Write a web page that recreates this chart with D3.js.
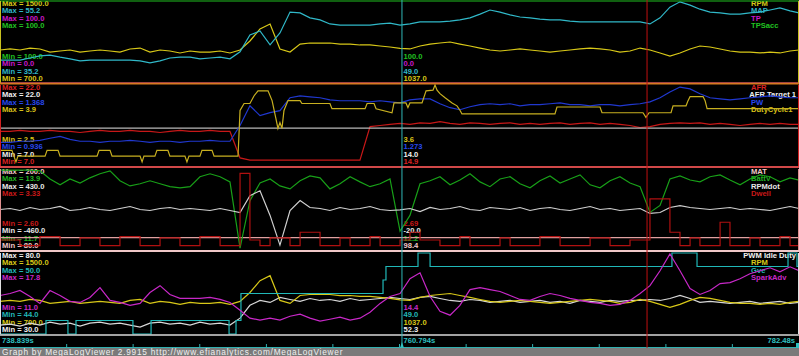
<!DOCTYPE html>
<html>
<head>
<meta charset="utf-8">
<title>MegaLogViewer</title>
<script src="https://cdn.jsdelivr.net/npm/d3@7/dist/d3.min.js"></script>
<style>
  body { margin: 0; background: #000; overflow: hidden; }
  svg { display: block; }
  .lbl { font-family: "Liberation Sans", Arial, sans-serif; font-size: 7.6px; font-weight: bold; }
  .foot { font-family: "Liberation Sans", Arial, sans-serif; font-size: 8.3px; letter-spacing: 0.75px; }
</style>
</head>
<body>
<svg id="chart" width="799" height="356"></svg>
<script>
// log sample times (s)
const time = [738.839, 739.39, 739.93, 740.48, 741.02, 741.57, 742.12, 742.66, 743.21, 743.75,
  744.30, 744.85, 745.39, 745.94, 746.49, 747.03, 747.58, 748.12, 748.67, 749.22,
  749.76, 750.31, 750.86, 751.40, 751.95, 752.49, 753.04, 753.59, 754.13, 754.68,
  755.23, 755.77, 756.32, 756.86, 757.41, 757.96, 758.50, 759.05, 759.60, 760.14,
  760.69, 761.23, 761.78, 762.33, 762.87, 763.42, 763.96, 764.51, 765.06, 765.60,
  766.15, 766.70, 767.24, 767.79, 768.33, 768.88, 769.43, 769.97, 770.52, 771.07,
  771.61, 772.16, 772.70, 773.25, 773.80, 774.34, 774.89, 775.43, 775.98, 776.53,
  777.07, 777.62, 778.17, 778.71, 779.26, 779.80, 780.35, 780.90, 781.44, 781.99,
  782.48];

const rpm = [1022, 1032, 1022, 1041, 1032, 1002, 1012, 1022, 1002, 1012,
  1022, 1012, 1002, 1032, 1041, 1002, 1022, 1012, 993, 1012,
  1002, 1002, 1012, 993, 1022, 1110, 1227, 1276, 1032, 1002,
  1080, 1090, 1090, 1090, 1080, 1080, 1071, 1071, 1061, 1051,
  1037, 1032, 1061, 1080, 1090, 1100, 1080, 1061, 1041, 1022,
  1012, 1022, 1032, 1022, 1012, 1002, 1012, 1022, 1032, 1041,
  1032, 1022, 1002, 1012, 1041, 1022, 993, 963, 993, 1032,
  1061, 1051, 1032, 1012, 1002, 1002, 993, 1002, 993, 1012,
  1022];

const map = [40.8, 40.8, 40.8, 41.3, 41.8, 42.0, 41.5, 41.1, 40.6, 40.8,
  40.8, 40.8, 40.8, 40.8, 40.6, 40.1, 40.6, 41.3, 41.5, 41.5,
  41.1, 41.3, 41.5, 41.1, 42.8, 46.9, 47.9, 44.5, 47.4, 52.5,
  52.3, 51.1, 50.6, 49.6, 49.3, 49.3, 49.3, 49.3, 49.6, 49.8,
  49.3, 49.6, 50.1, 50.1, 50.1, 50.3, 50.6, 51.1, 52.0, 53.0,
  52.5, 51.8, 51.3, 51.1, 50.8, 50.6, 50.6, 50.3, 50.1, 50.1,
  50.1, 50.1, 50.1, 50.1, 50.1, 49.6, 51.1, 53.7, 55.0, 54.2,
  53.2, 52.5, 52.3, 52.0, 52.0, 52.3, 52.5, 53.0, 53.5, 52.8,
  52.3];

const afr = [13.4, 13.4, 13.6, 13.4, 13.4, 13.6, 13.4, 13.4, 13.2, 13.4,
  13.6, 13.4, 13.4, 13.6, 13.4, 13.4, 13.2, 13.4, 13.6, 13.4,
  13.4, 13.6, 13.4, 13.4, 8.5, 8.1, 8.1, 8.1, 8.1, 8.1,
  8.1, 8.1, 8.1, 8.1, 8.1, 8.1, 8.1, 14.3, 14.5, 14.7,
  14.9, 14.7, 15.0, 14.9, 15.2, 14.9, 14.7, 15.0, 14.9, 14.7,
  14.9, 15.0, 14.7, 14.9, 14.7, 14.9, 15.0, 14.7, 14.9, 15.0,
  14.7, 14.9, 14.7, 14.5, 14.1, 14.3, 14.7, 14.9, 15.0, 14.9,
  15.0, 14.7, 14.9, 14.7, 14.5, 14.7, 14.9, 14.7, 14.9, 14.7,
  14.7];

const pw = [1.062, 1.062, 1.068, 1.068, 1.073, 1.084, 1.094, 1.078, 1.068, 1.068,
  1.062, 1.068, 1.068, 1.073, 1.068, 1.062, 1.068, 1.068, 1.062, 1.068,
  1.068, 1.073, 1.068, 1.068, 1.152, 1.257, 1.205, 1.221, 1.231, 1.300,
  1.310, 1.305, 1.300, 1.289, 1.284, 1.284, 1.284, 1.278, 1.284, 1.278,
  1.273, 1.289, 1.294, 1.294, 1.268, 1.247, 1.236, 1.252, 1.263, 1.268,
  1.263, 1.268, 1.257, 1.263, 1.263, 1.268, 1.273, 1.263, 1.263, 1.257,
  1.263, 1.263, 1.257, 1.263, 1.268, 1.278, 1.300, 1.331, 1.357, 1.347,
  1.321, 1.300, 1.294, 1.289, 1.294, 1.300, 1.305, 1.310, 1.305, 1.300,
  1.300];

const battV = [13.87, 13.87, 13.87, 13.87, 13.85, 13.63, 13.47, 13.63, 13.52, 13.66,
  13.77, 13.85, 13.58, 13.44, 13.50, 13.58, 13.50, 13.42, 13.39, 13.42,
  13.69, 13.77, 13.69, 13.55, 11.75, 13.04, 13.52, 13.63, 13.44, 13.36,
  13.58, 13.71, 13.66, 13.36, 13.50, 13.69, 13.55, 13.42, 13.50, 13.63,
  12.21, 12.64, 13.50, 13.58, 13.69, 13.47, 13.60, 13.77, 13.55, 13.42,
  13.63, 13.69, 13.50, 13.39, 13.58, 13.71, 13.52, 13.63, 13.74, 13.47,
  13.39, 13.58, 13.69, 13.52, 13.42, 12.72, 12.91, 13.63, 13.71, 13.60,
  13.55, 13.69, 13.74, 13.60, 13.47, 13.63, 13.74, 13.69, 13.55, 13.66,
  13.60];

const rpmDot = [-15, -4, -26, 7, -15, -4, 18, -26, -15, 7,
  -15, -26, -4, 18, -15, -26, -4, 7, -15, -4,
  -15, -26, -4, -26, -48, 137, 191, -80, -406, -26,
  83, 7, -4, -26, 7, -15, -4, 18, -15, -26,
  -20, -4, -37, 7, -15, -4, 18, -15, -26, 7,
  -4, -15, 7, -26, -4, 7, -15, -26, -4, 18,
  -15, -4, -26, -15, -4, -58, -48, 7, 28, 7,
  -4, -15, -4, 7, -15, -4, -15, -26, -4, 18,
  -4];

const dwell = [2.69, 2.69, 2.64, 2.64, 2.72, 2.72, 2.64, 2.64, 2.71, 2.71,
  2.64, 2.64, 2.72, 2.72, 2.64, 2.64, 2.71, 2.71, 2.64, 2.64,
  2.72, 2.72, 2.64, 2.64, 3.29, 2.69, 2.64, 2.71, 2.71, 2.64,
  2.76, 2.76, 2.64, 2.64, 2.71, 2.64, 2.64, 2.72, 2.64, 2.64,
  2.69, 2.76, 2.69, 2.69, 2.64, 2.64, 2.72, 2.64, 2.64, 2.64,
  2.71, 2.64, 2.64, 2.64, 2.72, 2.72, 2.64, 2.64, 2.64, 2.71,
  2.71, 2.64, 2.64, 2.69, 2.69, 3.06, 3.06, 2.76, 2.64, 2.71,
  2.64, 2.64, 2.85, 2.64, 2.64, 2.71, 2.64, 2.64, 2.72, 2.64,
  2.64];

const idleDuty = [35.5, 36.1, 34.9, 36.7, 35.5, 37.3, 36.1, 36.7, 34.9, 36.7,
  37.3, 36.1, 36.7, 35.5, 34.3, 36.7, 37.3, 36.1, 36.7, 35.5,
  37.3, 36.1, 36.7, 35.5, 39.8, 47.7, 50.7, 49.5, 52.6, 51.3,
  50.1, 51.9, 50.7, 51.3, 50.1, 51.9, 50.7, 51.3, 51.9, 52.6,
  51.9, 51.3, 52.6, 53.2, 51.9, 50.7, 50.1, 51.3, 50.7, 49.5,
  50.1, 50.7, 49.5, 50.1, 50.7, 49.5, 50.1, 48.9, 50.7, 50.1,
  49.5, 50.7, 50.1, 50.7, 50.7, 51.3, 50.7, 51.9, 53.8, 51.9,
  49.5, 50.1, 49.5, 48.9, 49.5, 50.1, 48.9, 49.5, 50.1, 48.9,
  49.5];

const sparkAdv = [14.23, 14.40, 14.65, 14.15, 13.57, 14.65, 14.23, 13.74, 13.65, 14.07,
  14.90, 13.82, 13.65, 13.40, 13.57, 14.48, 15.06, 14.32, 13.99, 13.99,
  13.99, 14.07, 13.90, 13.65, 12.99, 12.33, 12.16, 12.33, 12.16, 12.49,
  12.66, 12.33, 12.08, 12.24, 12.41, 12.16, 12.33, 12.82, 13.57, 14.15,
  14.40, 15.64, 16.14, 14.15, 12.91, 12.58, 13.40, 14.73, 14.90, 14.73,
  14.57, 14.23, 13.90, 13.82, 14.15, 14.40, 14.23, 13.99, 13.82, 13.65,
  13.57, 13.40, 13.49, 13.82, 14.40, 15.06, 16.31, 17.72, 16.31, 14.81,
  14.32, 14.65, 15.23, 15.31, 15.64, 16.06, 16.31, 16.56, 16.22, 16.64,
  16.31];

// injector duty cycle changes
const dutyTime = [738.839, 739.49, 739.60, 739.71, 739.82, 741.30, 741.41, 742.01, 742.12, 744.14,
  744.25, 744.85, 744.96, 746.49, 746.60, 746.70, 747.30, 747.41, 748.01, 748.12,
  748.94, 749.05, 749.16, 749.76, 749.87, 750.42, 750.53, 751.84, 751.95, 752.17,
  752.49, 752.71, 752.93, 753.48, 753.70, 753.91, 754.02, 754.13, 754.24, 754.35,
  754.57, 755.23, 755.33, 756.86, 756.97, 758.78, 758.89, 759.27, 759.38, 760.25,
  760.36, 761.01, 761.12, 761.23, 761.89, 762.11, 762.49, 762.60, 762.71, 762.87,
  763.15, 763.53, 763.80, 763.97, 764.07, 769.15, 769.26, 771.61, 771.72, 773.96,
  774.12, 774.29, 775.49, 775.60, 776.31, 776.42, 776.53, 777.24, 777.35, 777.46,
  782.48];
const dutyCycle = [2.77, 2.77, 2.67, 2.57, 2.67, 2.67, 2.77, 2.77, 2.67, 2.67,
  2.77, 2.77, 2.67, 2.67, 2.57, 2.67, 2.67, 2.77, 2.77, 2.67,
  2.67, 2.57, 2.67, 2.67, 2.77, 2.77, 2.67, 2.67, 3.46, 3.58,
  3.58, 3.71, 3.80, 3.80, 3.63, 3.32, 3.15, 3.25, 3.15, 3.46,
  3.63, 3.63, 3.58, 3.58, 3.49, 3.49, 3.58, 3.58, 3.49, 3.42,
  3.59, 3.59, 3.51, 3.59, 3.59, 3.80, 3.81, 3.90, 3.81, 3.75,
  3.68, 3.59, 3.54, 3.46, 3.40, 3.40, 3.52, 3.52, 3.42, 3.42,
  3.34, 3.42, 3.42, 3.54, 3.54, 3.63, 3.70, 3.70, 3.63, 3.49,
  3.49];

// VE table cell steps
const gveTime = [738.839, 741.35, 742.55, 742.99, 746.10, 747.09, 751.35, 751.73, 752.00, 759.76,
  759.92, 761.67, 762.33, 775.54, 776.91, 781.88, 782.37, 782.48];
const gve = [44, 45, 44, 45, 44, 45, 44, 45, 47, 48, 49, 50, 49, 50, 49, 50, 49, 49];

// channels that stay constant over the window
const flatTime = [738.839, 782.48];
const tp = [0, 0];
const tpsAcc = [100, 100];
const afrTarget = [14.0, 14.0];
const mat = [98.4, 98.4];

// panel channel names, limits and cursor readouts
const p1Names = ["RPM", "MAP", "TP", "TPSacc"];
const p1Max = [1500, 55.2, 100, 100];
const p1Min = [700, 35.2, 0, 100];
const p1Now = ["1037.0", "49.0", "0.0", "100.0"];

const p2Names = ["AFR", "AFR Target 1", "PW", "DutyCycle1"];
const p2Max = [22, 22, 1.368, 3.9];
const p2Min = [7, 7, 0.936, 2.5];
const p2Now = ["14.9", "14.0", "1.273", "3.6"];

const p3Names = ["MAT", "BattV", "RPMdot", "Dwell"];
const p3Max = [200, 13.9, 430, 3.33];
const p3Min = [80, 11.7, -460, 2.6];
const p3Now = ["98.4", "12.2", "-20.0", "2.69"];

const p4Names = ["PWM Idle Duty", "RPM", "Gve", "SparkAdv"];
const p4Max = [80, 1500, 50, 17.8];
const p4Min = [30, 700, 44, 11];
const p4Now = ["52.3", "1037.0", "49.0", "14.4"];

const cursorTime = 760.794;
const markerTime = 774.18;
const tickTimes = [742.48, 746.11, 749.75, 753.39, 757.02, 760.66, 764.30, 767.93, 771.57, 775.21, 778.84];
const startLabel = "738.839s";
const cursorLabel = "760.794s";
const endLabel = "782.48s";
const footer = "Graph by MegaLogViewer 2.9915 http://www.efianalytics.com/MegaLogViewer";

const W = 799;
const svg = d3.select("#chart");
const x = d3.scaleLinear().domain([time[0], time[time.length - 1]]).range([0, W]);
const cx = x(cursorTime);

function ch(names, maxs, mins, now, k, color, t, v, digits, extra) {
    return Object.assign({ name: names[k], hi: maxs[k], lo: mins[k], now: now[k], color: color, t: t, v: v, digits: digits }, extra || {});
}

const panels = [
    { top: 1, bottom: 83, edge: "#c8c020", list: [
        ch(p1Names, p1Max, p1Min, p1Now, 0, "#d8c818", time, rpm, 1),
        ch(p1Names, p1Max, p1Min, p1Now, 1, "#30b8c8", time, map, 1),
        ch(p1Names, p1Max, p1Min, p1Now, 2, "#c818c8", flatTime, tp, 1),
        ch(p1Names, p1Max, p1Min, p1Now, 3, "#20c020", flatTime, tpsAcc, 1)
    ]},
    { top: 85, bottom: 166, edge: "#d02020", list: [
        ch(p2Names, p2Max, p2Min, p2Now, 0, "#d82020", time, afr, 1, { trace: "#c81818" }),
        ch(p2Names, p2Max, p2Min, p2Now, 1, "#f0f0f0", flatTime, afrTarget, 1, { trace: "#b8b8b8" }),
        ch(p2Names, p2Max, p2Min, p2Now, 2, "#2848f0", time, pw, 3, { trace: "#2038d0" }),
        ch(p2Names, p2Max, p2Min, p2Now, 3, "#d8c018", dutyTime, dutyCycle, 1, { trace: "#c8b020" })
    ]},
    { top: 169, bottom: 250, edge: "#e09090", list: [
        ch(p3Names, p3Max, p3Min, p3Now, 0, "#f0c8c8", flatTime, mat, 1, { trace: "#e0a0a0" }),
        ch(p3Names, p3Max, p3Min, p3Now, 1, "#20b020", time, battV, 1, { trace: "#18a018" }),
        ch(p3Names, p3Max, p3Min, p3Now, 2, "#e8e8e8", time, rpmDot, 1, { trace: "#d0d0d0" }),
        ch(p3Names, p3Max, p3Min, p3Now, 3, "#c81818", time, dwell, 2, { trace: "#b01010", step: true })
    ]},
    { top: 253, bottom: 334, edge: "#e0e0e0", list: [
        ch(p4Names, p4Max, p4Min, p4Now, 0, "#f0f0f0", time, idleDuty, 1, { trace: "#d8d8d8" }),
        ch(p4Names, p4Max, p4Min, p4Now, 1, "#d8c818", time, rpm, 1),
        ch(p4Names, p4Max, p4Min, p4Now, 2, "#20b8b8", gveTime, gve, 1, { step: true }),
        ch(p4Names, p4Max, p4Min, p4Now, 3, "#c828c8", time, sparkAdv, 1)
    ]}
];

svg.append("rect").attr("width", W).attr("height", 356).attr("fill", "#000");

panels.forEach((p, i) => {
    // text first, traces are painted over it like in MLV
    const txt = svg.append("g").attr("class", "lbl");
    p.list.forEach((s, k) => {
        txt.append("text").attr("x", 2).attr("y", p.top + 2.5 + 7.4 * k)
            .attr("dominant-baseline", "central").attr("fill", s.color)
            .text("Max = " + s.hi.toFixed(s.digits));
        txt.append("text").attr("x", 2).attr("y", p.bottom - 4.5 - 7.4 * k)
            .attr("dominant-baseline", "central").attr("fill", s.color)
            .text("Min = " + s.lo.toFixed(s.digits));
        txt.append("text").attr("x", cx + 1.5).attr("y", p.bottom - 4.5 - 7.4 * k)
            .attr("dominant-baseline", "central").attr("fill", s.color)
            .text(s.now);
        const lg = txt.append("text").attr("x", 751).attr("y", p.top + 2.5 + 7.4 * k)
            .attr("dominant-baseline", "central").attr("fill", s.color)
            .text(s.name);
        const w = lg.node().getComputedTextLength();
        if (751 + w > 796) lg.attr("x", 796 - w);
    });

    svg.append("clipPath").attr("id", "clip" + i)
        .append("rect").attr("x", 0).attr("y", p.top - 1).attr("width", W).attr("height", p.bottom - p.top + 2);

    const traces = svg.append("g").attr("clip-path", "url(#clip" + i + ")");
    p.list.forEach(s => {
        const dom = s.lo === s.hi ? [s.lo - 1, s.hi] : [s.lo, s.hi];
        const y = d3.scaleLinear().domain(dom).range([p.bottom, p.top]);
        const line = d3.line()
            .x((d, j) => x(s.t[j]))
            .y(d => y(d))
            .curve(s.step ? d3.curveStepAfter : d3.curveLinear);
        traces.append("path").datum(s.v)
            .attr("fill", "none")
            .attr("stroke", s.trace || s.color)
            .attr("stroke-width", 1.2)
            .attr("d", line);
    });

    // side edges
    [0.5, W - 0.5].forEach(ex => {
        svg.append("line").attr("x1", ex).attr("x2", ex).attr("y1", p.top).attr("y2", p.bottom)
            .attr("stroke", p.edge).attr("stroke-width", 1);
    });
});

// panel separators
const seps = [
    { y: 83.5, c: "#d87820", w: 2 },
    { y: 167, c: "#d04848", w: 2 },
    { y: 251, c: "#f0c8c8", w: 2 },
    { y: 335, c: "#d8d8d8", w: 1.5 }
];
seps.forEach(s => {
    svg.append("line").attr("x1", 0).attr("x2", W).attr("y1", s.y).attr("y2", s.y)
        .attr("stroke", s.c).attr("stroke-width", s.w);
});

// time strip
const strip = svg.append("g").attr("class", "lbl");
strip.append("text").attr("x", 2).attr("y", 340.5).attr("dominant-baseline", "central")
    .attr("fill", "#30c0c0").text(startLabel);
strip.append("text").attr("x", cx + 1.5).attr("y", 340.5).attr("dominant-baseline", "central")
    .attr("fill", "#30c0c0").text(cursorLabel);
strip.append("text").attr("x", W - 4).attr("y", 340.5).attr("dominant-baseline", "central")
    .attr("text-anchor", "end").attr("fill", "#30c0c0").text(endLabel);

svg.append("line").attr("x1", 0).attr("x2", W).attr("y1", 347.5).attr("y2", 347.5)
    .attr("stroke", "#30b0b0").attr("stroke-width", 1);
svg.selectAll(".tick").data(tickTimes).enter().append("line")
    .attr("x1", d => x(d)).attr("x2", d => x(d)).attr("y1", 344).attr("y2", 347.5)
    .attr("stroke", "#30b0b0").attr("stroke-width", 1);

// cursors
svg.append("line").attr("x1", x(markerTime)).attr("x2", x(markerTime)).attr("y1", 0).attr("y2", 348)
    .attr("stroke", "#c01010").attr("stroke-width", 1);
svg.append("line").attr("x1", cx).attr("x2", cx).attr("y1", 0).attr("y2", 348)
    .attr("stroke", "#30b8b8").attr("stroke-width", 1);
svg.append("path").attr("d", `M${cx - 2},348L${cx},342L${cx + 2},348Z`).attr("fill", "#30c0c0");
svg.append("rect").attr("x", W - 3).attr("y", 343).attr("width", 3).attr("height", 5).attr("fill", "#30c0c0");

// footer
svg.append("rect").attr("x", 0).attr("y", 348).attr("width", W).attr("height", 8).attr("fill", "#7a7a7a");
svg.append("text").attr("class", "foot").attr("x", 2).attr("y", 351.8)
    .attr("dominant-baseline", "central").attr("fill", "#f0f0f0").text(footer);
</script>
</body>
</html>
